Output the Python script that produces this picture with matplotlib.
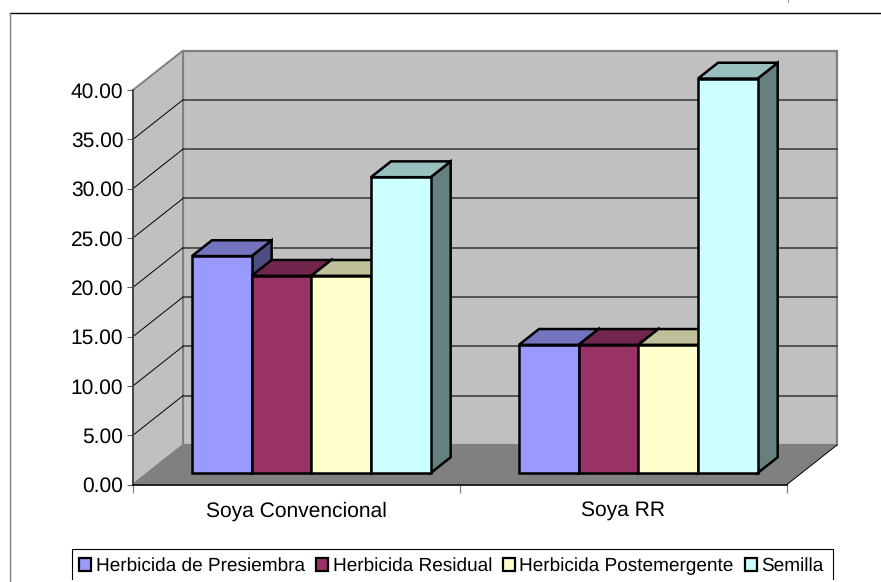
import matplotlib
matplotlib.use('Agg')
import matplotlib.pyplot as plt
from matplotlib.colors import to_rgb
from matplotlib.lines import Line2D
from matplotlib.patches import Polygon, Rectangle

plt.rcParams['font.family'] = ['Liberation Sans', 'DejaVu Sans']
plt.rcParams['text.hinting'] = 'no_hinting'
plt.rcParams['text.hinting_factor'] = 1

categories = ['Soya Convencional', 'Soya RR']
series_names = ['Herbicida de Presiembra', 'Herbicida Residual',
                'Herbicida Postemergente', 'Semilla']
presiembra = [22, 13]
residual = [20, 13]
postemergente = [20, 13]
semilla = [30, 40]
series_values = [presiembra, residual, postemergente, semilla]
series_colors = ['#9999FF', '#993366', '#FFFFCC', '#CCFFFF']
y_ticks = [0, 5, 10, 15, 20, 25, 30, 35, 40]

W, H = 881, 582
# size of the plot front plane, in pixels
LEFT, RIGHT, BOTTOM, TOP = 133, 787, 484.5, 90
DEPTH_DX = 50 / ((RIGHT - LEFT) / 2)   # shift of the back wall in x units
DEPTH_DY = 39.5 / ((BOTTOM - TOP) / 40)  # shift of the back wall in y units
BAR_W = 0.1825
BAR_D0, BAR_D1 = 0.29, 0.69   # bars sit in the middle of the floor depth


def proj(x, y, d=0.0):
    # fake 3D: d=0 is the front plane, d=1 is the back wall
    return (x + d * DEPTH_DX, y + d * DEPTH_DY)


def shade(color, k):
    r, g, b = to_rgb(color)
    return (r * k, g * k, b * k)


def poly(ax, pts, face, edge='none', lw=0.0, z=1):
    ax.add_patch(Polygon(pts, closed=True, facecolor=face, edgecolor=edge,
                         linewidth=lw, zorder=z, clip_on=False,
                         joinstyle='miter'))


fig = plt.figure(figsize=(W / 100, H / 100), dpi=100, facecolor='white')
ax = fig.add_axes([LEFT / W, 1 - BOTTOM / H, (RIGHT - LEFT) / W, (BOTTOM - TOP) / H])
ax.set_xlim(0, 2)
ax.set_ylim(0, 40)
ax.patch.set_visible(False)

# walls and floor
poly(ax, [proj(0, 0, 1), proj(2, 0, 1), proj(2, 40, 1), proj(0, 40, 1)],
     '#C0C0C0', '#808080', 1.6, 1)
poly(ax, [proj(0, 0), proj(0, 0, 1), proj(0, 40, 1), proj(0, 40)],
     '#C0C0C0', '#808080', 1.4, 1)
poly(ax, [proj(0, 0), proj(2, 0), proj(2, 0, 1), proj(0, 0, 1)], '#808080', z=2)

# gridlines go along the side wall and across the back wall
for v in y_ticks[1:-1]:
    x0, y0 = proj(0, v, 1)
    x1, y1 = proj(2, v, 1)
    ax.plot([x0, x1], [y0, y1], color='#404040', lw=1.2, zorder=3, clip_on=False)
    ax.plot([0, x0], [v, y0], color='black', lw=0.7, zorder=3, clip_on=False)
ax.plot([2, proj(2, 0, 1)[0]], [0, proj(2, 0, 1)[1]], color='black', lw=0.7,
        zorder=3, clip_on=False)

# bars, left to right so every bar covers the side of the one before it
z = 4
for c in range(len(categories)):
    for s, values in enumerate(series_values):
        v = values[c]
        col = series_colors[s]
        x0 = c + 0.5 - 2 * BAR_W + s * BAR_W + 0.001
        x1 = x0 + BAR_W
        poly(ax, [proj(x1, 0, BAR_D0), proj(x1, 0, BAR_D1),
                  proj(x1, v, BAR_D1), proj(x1, v, BAR_D0)],
             shade(col, 0.5), 'black', 1.8, z)
        poly(ax, [proj(x0, v, BAR_D0), proj(x1, v, BAR_D0),
                  proj(x1, v, BAR_D1), proj(x0, v, BAR_D1)],
             shade(col, 0.75), 'black', 1.8, z)
        poly(ax, [proj(x0, 0, BAR_D0), proj(x1, 0, BAR_D0),
                  proj(x1, v, BAR_D0), proj(x0, v, BAR_D0)],
             col, 'black', 1.8, z)
        z += 1

# axes
for side in ['top', 'right']:
    ax.spines[side].set_visible(False)
ax.spines['left'].set_color('#404040')
ax.spines['left'].set_linewidth(1.3)
ax.spines['bottom'].set_color('black')
ax.spines['bottom'].set_linewidth(1.2)
ax.spines['left'].set_zorder(50)
ax.spines['bottom'].set_zorder(50)
ax.set_yticks(y_ticks)
ax.set_yticklabels(['%.2f' % t for t in y_ticks])
ax.tick_params(axis='y', length=4.3, width=0.8, color='#606060', pad=2.6,
               labelsize=15.2, labelcolor='black')
ax.set_xticks([0, 1, 2])
ax.set_xticklabels([])
ax.tick_params(axis='x', length=5.5, width=0.9, color='#808080')
ax.set_xticks([c + 0.5 for c in range(len(categories))], minor=True)
ax.set_xticklabels(categories, minor=True)
for lab in ax.get_xticklabels(minor=True):
    lab.set_verticalalignment('baseline')
ax.tick_params(axis='x', which='minor', length=0, pad=23.5, labelsize=15.4)

# outer frame, open at the bottom and on the right
fig.add_artist(Line2D([10 / W, 1], [1 - 12.5 / H] * 2, color='black', lw=1.0))
fig.add_artist(Line2D([10 / W] * 2, [0, 1 - 12.5 / H], color='#808080', lw=1.0))
fig.add_artist(Line2D([787.5 / W] * 2, [1, 1 - 1.5 / H], color='#A0A0A0', lw=0.8))

# legend box, its lower edge is cut off
fig.add_artist(Line2D([72 / W, 72 / W, 833 / W, 833 / W],
                      [1 - 579 / H, 1 - 548.5 / H, 1 - 548.5 / H, 1 - 579 / H],
                      color='black', lw=0.8, solid_joinstyle='miter'))
swatch_x = [78.5, 315.5, 502.5, 744.5]
text_x = [96, 333, 519, 761.5]
# the entry with descenders lands higher once rounded to pixels
text_y = [570.5, 570.5, 571.2, 570.5]
for name, col, sx, tx, ty in zip(series_names, series_colors, swatch_x, text_x, text_y):
    fig.add_artist(Rectangle((sx / W, 1 - 571 / H), 12.5 / W, 13 / H,
                             facecolor=col, edgecolor='black', lw=1.6,
                             transform=fig.transFigure))
    fig.text(tx / W, 1 - ty / H, name, fontsize=13.6, ha='left', va='baseline')

fig.savefig('out.png', dpi=100)
